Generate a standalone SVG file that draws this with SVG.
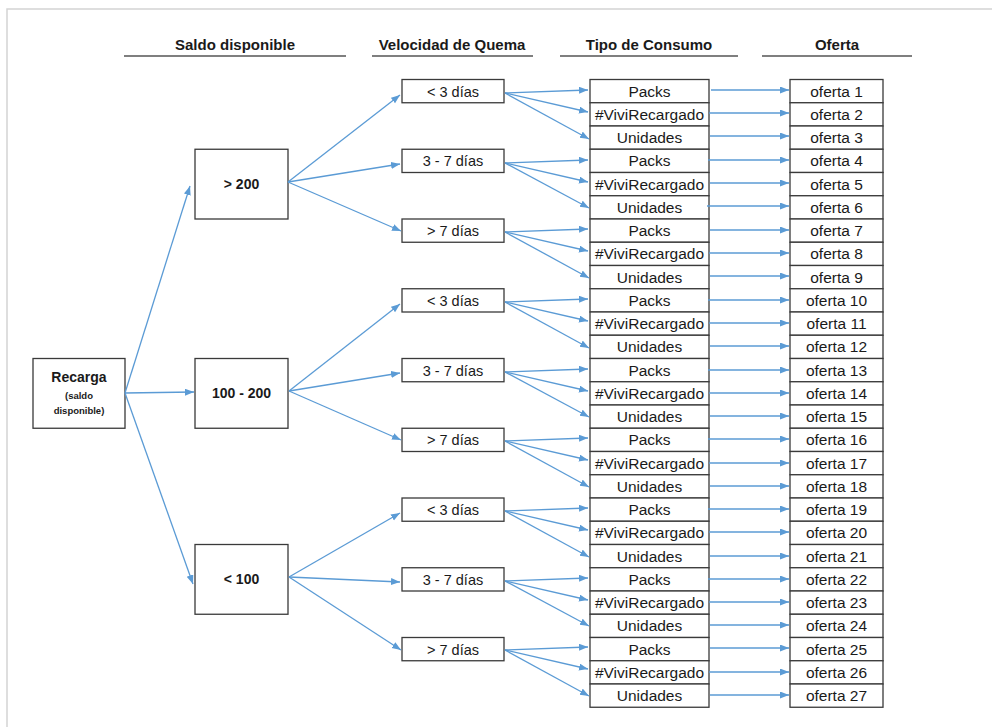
<svg xmlns="http://www.w3.org/2000/svg" width="992" height="727" viewBox="0 0 992 727">
<style>
  text { font-family: "Liberation Sans", Arial, sans-serif; fill: #1a1a1a; }
  .hd { font-size: 15px; font-weight: bold; text-anchor: middle; }
  .t { font-size: 15.5px; text-anchor: middle; }
  .v { font-size: 14.5px; text-anchor: middle; }
  .b { font-size: 14px; font-weight: bold; text-anchor: middle; }
  .s { font-size: 9.5px; font-weight: bold; text-anchor: middle; }
  .box { fill: #fff; stroke: #3a3a3a; stroke-width: 1.3; }
  .hl { stroke: #555; stroke-width: 1.6; }
  .c line { stroke: #5B9BD5; stroke-width: 1.3; marker-end: url(#ah); }
</style>
<defs>
  <marker id="ah" markerWidth="10" markerHeight="8" refX="9" refY="3.5" orient="auto" markerUnits="userSpaceOnUse">
    <path d="M0,0 L9,3.5 L0,7 z" fill="#5B9BD5"/>
  </marker>
</defs>
<rect width="992" height="727" fill="#fff"/>
<path d="M7,727 V9 H992" fill="none" stroke="#d4d4d4" stroke-width="1.5"/>

<g id="headers">
  <text class="hd" x="235" y="50">Saldo disponible</text>
  <line class="hl" x1="124" y1="56" x2="346" y2="56"/>
  <text class="hd" x="452" y="50">Velocidad de Quema</text>
  <line class="hl" x1="372" y1="56" x2="533" y2="56"/>
  <text class="hd" x="649" y="50">Tipo de Consumo</text>
  <line class="hl" x1="560" y1="56" x2="738" y2="56"/>
  <text class="hd" x="837" y="50">Oferta</text>
  <line class="hl" x1="762" y1="56" x2="912" y2="56"/>
</g>

<g id="recarga">
  <rect class="box" x="33" y="358.5" width="92" height="69.75"/>
  <text class="b" x="79" y="382">Recarga</text>
  <text class="s" x="79" y="399">(saldo</text>
  <text class="s" x="79" y="414">disponible)</text>
</g>

<g id="saldo-mayor-200">
  <rect class="box" x="195" y="149.25" width="93" height="69.75"/>
  <text class="b" x="241.5" y="189">&gt; 200</text>
</g>
<g id="saldo-100-200">
  <rect class="box" x="195" y="358.5" width="93" height="69.75"/>
  <text class="b" x="241.5" y="398">100 - 200</text>
</g>
<g id="saldo-menor-100">
  <rect class="box" x="195" y="544.5" width="93" height="69.75"/>
  <text class="b" x="241.5" y="584">&lt; 100</text>
</g>

<g id="vel-1"><rect class="box" x="402" y="79.5" width="102" height="23.25"/><text class="v" x="453" y="96.5">&lt; 3 días</text></g>
<g id="vel-2"><rect class="box" x="402" y="149.25" width="102" height="23.25"/><text class="v" x="453" y="166.25">3 - 7 días</text></g>
<g id="vel-3"><rect class="box" x="402" y="219" width="102" height="23.25"/><text class="v" x="453" y="236">&gt; 7 días</text></g>
<g id="vel-4"><rect class="box" x="402" y="288.75" width="102" height="23.25"/><text class="v" x="453" y="305.75">&lt; 3 días</text></g>
<g id="vel-5"><rect class="box" x="402" y="358.5" width="102" height="23.25"/><text class="v" x="453" y="375.5">3 - 7 días</text></g>
<g id="vel-6"><rect class="box" x="402" y="428.25" width="102" height="23.25"/><text class="v" x="453" y="445.25">&gt; 7 días</text></g>
<g id="vel-7"><rect class="box" x="402" y="498" width="102" height="23.25"/><text class="v" x="453" y="515">&lt; 3 días</text></g>
<g id="vel-8"><rect class="box" x="402" y="567.75" width="102" height="23.25"/><text class="v" x="453" y="584.75">3 - 7 días</text></g>
<g id="vel-9"><rect class="box" x="402" y="637.5" width="102" height="23.25"/><text class="v" x="453" y="654.5">&gt; 7 días</text></g>

<g id="consumo">
  <g id="con-1"><rect class="box" x="590" y="79.5" width="119" height="23.25"/><text class="t" x="649.5" y="96.5">Packs</text></g>
  <g id="con-2"><rect class="box" x="590" y="102.75" width="119" height="23.25"/><text class="t" x="649.5" y="119.75">#ViviRecargado</text></g>
  <g id="con-3"><rect class="box" x="590" y="126" width="119" height="23.25"/><text class="t" x="649.5" y="143">Unidades</text></g>
  <g id="con-4"><rect class="box" x="590" y="149.25" width="119" height="23.25"/><text class="t" x="649.5" y="166.25">Packs</text></g>
  <g id="con-5"><rect class="box" x="590" y="172.5" width="119" height="23.25"/><text class="t" x="649.5" y="189.5">#ViviRecargado</text></g>
  <g id="con-6"><rect class="box" x="590" y="195.75" width="119" height="23.25"/><text class="t" x="649.5" y="212.75">Unidades</text></g>
  <g id="con-7"><rect class="box" x="590" y="219" width="119" height="23.25"/><text class="t" x="649.5" y="236">Packs</text></g>
  <g id="con-8"><rect class="box" x="590" y="242.25" width="119" height="23.25"/><text class="t" x="649.5" y="259.25">#ViviRecargado</text></g>
  <g id="con-9"><rect class="box" x="590" y="265.5" width="119" height="23.25"/><text class="t" x="649.5" y="282.5">Unidades</text></g>
  <g id="con-10"><rect class="box" x="590" y="288.75" width="119" height="23.25"/><text class="t" x="649.5" y="305.75">Packs</text></g>
  <g id="con-11"><rect class="box" x="590" y="312" width="119" height="23.25"/><text class="t" x="649.5" y="329">#ViviRecargado</text></g>
  <g id="con-12"><rect class="box" x="590" y="335.25" width="119" height="23.25"/><text class="t" x="649.5" y="352.25">Unidades</text></g>
  <g id="con-13"><rect class="box" x="590" y="358.5" width="119" height="23.25"/><text class="t" x="649.5" y="375.5">Packs</text></g>
  <g id="con-14"><rect class="box" x="590" y="381.75" width="119" height="23.25"/><text class="t" x="649.5" y="398.75">#ViviRecargado</text></g>
  <g id="con-15"><rect class="box" x="590" y="405" width="119" height="23.25"/><text class="t" x="649.5" y="422">Unidades</text></g>
  <g id="con-16"><rect class="box" x="590" y="428.25" width="119" height="23.25"/><text class="t" x="649.5" y="445.25">Packs</text></g>
  <g id="con-17"><rect class="box" x="590" y="451.5" width="119" height="23.25"/><text class="t" x="649.5" y="468.5">#ViviRecargado</text></g>
  <g id="con-18"><rect class="box" x="590" y="474.75" width="119" height="23.25"/><text class="t" x="649.5" y="491.75">Unidades</text></g>
  <g id="con-19"><rect class="box" x="590" y="498" width="119" height="23.25"/><text class="t" x="649.5" y="515">Packs</text></g>
  <g id="con-20"><rect class="box" x="590" y="521.25" width="119" height="23.25"/><text class="t" x="649.5" y="538.25">#ViviRecargado</text></g>
  <g id="con-21"><rect class="box" x="590" y="544.5" width="119" height="23.25"/><text class="t" x="649.5" y="561.5">Unidades</text></g>
  <g id="con-22"><rect class="box" x="590" y="567.75" width="119" height="23.25"/><text class="t" x="649.5" y="584.75">Packs</text></g>
  <g id="con-23"><rect class="box" x="590" y="591" width="119" height="23.25"/><text class="t" x="649.5" y="608">#ViviRecargado</text></g>
  <g id="con-24"><rect class="box" x="590" y="614.25" width="119" height="23.25"/><text class="t" x="649.5" y="631.25">Unidades</text></g>
  <g id="con-25"><rect class="box" x="590" y="637.5" width="119" height="23.25"/><text class="t" x="649.5" y="654.5">Packs</text></g>
  <g id="con-26"><rect class="box" x="590" y="660.75" width="119" height="23.25"/><text class="t" x="649.5" y="677.75">#ViviRecargado</text></g>
  <g id="con-27"><rect class="box" x="590" y="684" width="119" height="23.25"/><text class="t" x="649.5" y="701">Unidades</text></g>
</g>

<g id="ofertas">
  <g id="of-1"><rect class="box" x="790" y="79.5" width="93" height="23.25"/><text class="t" x="836.5" y="96.5">oferta 1</text></g>
  <g id="of-2"><rect class="box" x="790" y="102.75" width="93" height="23.25"/><text class="t" x="836.5" y="119.75">oferta 2</text></g>
  <g id="of-3"><rect class="box" x="790" y="126" width="93" height="23.25"/><text class="t" x="836.5" y="143">oferta 3</text></g>
  <g id="of-4"><rect class="box" x="790" y="149.25" width="93" height="23.25"/><text class="t" x="836.5" y="166.25">oferta 4</text></g>
  <g id="of-5"><rect class="box" x="790" y="172.5" width="93" height="23.25"/><text class="t" x="836.5" y="189.5">oferta 5</text></g>
  <g id="of-6"><rect class="box" x="790" y="195.75" width="93" height="23.25"/><text class="t" x="836.5" y="212.75">oferta 6</text></g>
  <g id="of-7"><rect class="box" x="790" y="219" width="93" height="23.25"/><text class="t" x="836.5" y="236">oferta 7</text></g>
  <g id="of-8"><rect class="box" x="790" y="242.25" width="93" height="23.25"/><text class="t" x="836.5" y="259.25">oferta 8</text></g>
  <g id="of-9"><rect class="box" x="790" y="265.5" width="93" height="23.25"/><text class="t" x="836.5" y="282.5">oferta 9</text></g>
  <g id="of-10"><rect class="box" x="790" y="288.75" width="93" height="23.25"/><text class="t" x="836.5" y="305.75">oferta 10</text></g>
  <g id="of-11"><rect class="box" x="790" y="312" width="93" height="23.25"/><text class="t" x="836.5" y="329">oferta 11</text></g>
  <g id="of-12"><rect class="box" x="790" y="335.25" width="93" height="23.25"/><text class="t" x="836.5" y="352.25">oferta 12</text></g>
  <g id="of-13"><rect class="box" x="790" y="358.5" width="93" height="23.25"/><text class="t" x="836.5" y="375.5">oferta 13</text></g>
  <g id="of-14"><rect class="box" x="790" y="381.75" width="93" height="23.25"/><text class="t" x="836.5" y="398.75">oferta 14</text></g>
  <g id="of-15"><rect class="box" x="790" y="405" width="93" height="23.25"/><text class="t" x="836.5" y="422">oferta 15</text></g>
  <g id="of-16"><rect class="box" x="790" y="428.25" width="93" height="23.25"/><text class="t" x="836.5" y="445.25">oferta 16</text></g>
  <g id="of-17"><rect class="box" x="790" y="451.5" width="93" height="23.25"/><text class="t" x="836.5" y="468.5">oferta 17</text></g>
  <g id="of-18"><rect class="box" x="790" y="474.75" width="93" height="23.25"/><text class="t" x="836.5" y="491.75">oferta 18</text></g>
  <g id="of-19"><rect class="box" x="790" y="498" width="93" height="23.25"/><text class="t" x="836.5" y="515">oferta 19</text></g>
  <g id="of-20"><rect class="box" x="790" y="521.25" width="93" height="23.25"/><text class="t" x="836.5" y="538.25">oferta 20</text></g>
  <g id="of-21"><rect class="box" x="790" y="544.5" width="93" height="23.25"/><text class="t" x="836.5" y="561.5">oferta 21</text></g>
  <g id="of-22"><rect class="box" x="790" y="567.75" width="93" height="23.25"/><text class="t" x="836.5" y="584.75">oferta 22</text></g>
  <g id="of-23"><rect class="box" x="790" y="591" width="93" height="23.25"/><text class="t" x="836.5" y="608">oferta 23</text></g>
  <g id="of-24"><rect class="box" x="790" y="614.25" width="93" height="23.25"/><text class="t" x="836.5" y="631.25">oferta 24</text></g>
  <g id="of-25"><rect class="box" x="790" y="637.5" width="93" height="23.25"/><text class="t" x="836.5" y="654.5">oferta 25</text></g>
  <g id="of-26"><rect class="box" x="790" y="660.75" width="93" height="23.25"/><text class="t" x="836.5" y="677.75">oferta 26</text></g>
  <g id="of-27"><rect class="box" x="790" y="684" width="93" height="23.25"/><text class="t" x="836.5" y="701">oferta 27</text></g>
</g>

<g id="connectors" class="c">
  <line x1="125" y1="393" x2="190" y2="186"/>
  <line x1="125" y1="393" x2="194" y2="392"/>
  <line x1="125" y1="393" x2="193" y2="584"/>
  <line x1="288" y1="182" x2="400" y2="95"/>
  <line x1="288" y1="182" x2="400" y2="164"/>
  <line x1="288" y1="182" x2="401" y2="231"/>
  <line x1="289" y1="391" x2="400" y2="304"/>
  <line x1="289" y1="391" x2="400" y2="373"/>
  <line x1="289" y1="391" x2="401" y2="440"/>
  <line x1="289" y1="577" x2="400" y2="513"/>
  <line x1="289" y1="577" x2="400" y2="582"/>
  <line x1="289" y1="577" x2="401" y2="650"/>
  <line x1="505" y1="93" x2="588" y2="90"/>
  <line x1="505" y1="93" x2="588" y2="112"/>
  <line x1="505" y1="93" x2="589" y2="139"/>
  <line x1="505" y1="163" x2="588" y2="160"/>
  <line x1="505" y1="163" x2="588" y2="182"/>
  <line x1="505" y1="163" x2="589" y2="208"/>
  <line x1="505" y1="232" x2="588" y2="229"/>
  <line x1="505" y1="232" x2="588" y2="251"/>
  <line x1="505" y1="232" x2="589" y2="278"/>
  <line x1="505" y1="302" x2="588" y2="299"/>
  <line x1="505" y1="302" x2="588" y2="321"/>
  <line x1="505" y1="302" x2="589" y2="348"/>
  <line x1="505" y1="372" x2="588" y2="369"/>
  <line x1="505" y1="372" x2="588" y2="391"/>
  <line x1="505" y1="372" x2="589" y2="417"/>
  <line x1="505" y1="441" x2="588" y2="438"/>
  <line x1="505" y1="441" x2="588" y2="460"/>
  <line x1="505" y1="441" x2="589" y2="487"/>
  <line x1="505" y1="511" x2="588" y2="508"/>
  <line x1="505" y1="511" x2="588" y2="530"/>
  <line x1="505" y1="511" x2="589" y2="557"/>
  <line x1="505" y1="581" x2="588" y2="578"/>
  <line x1="505" y1="581" x2="588" y2="600"/>
  <line x1="505" y1="581" x2="589" y2="626"/>
  <line x1="505" y1="650" x2="588" y2="647"/>
  <line x1="505" y1="650" x2="588" y2="669"/>
  <line x1="505" y1="650" x2="589" y2="696"/>
  <line x1="711" y1="90" x2="789" y2="90"/>
  <line x1="709" y1="113" x2="789" y2="113"/>
  <line x1="710" y1="136" x2="789" y2="136"/>
  <line x1="708" y1="160" x2="789" y2="160"/>
  <line x1="710" y1="183" x2="789" y2="183"/>
  <line x1="707" y1="206" x2="789" y2="206"/>
  <line x1="710" y1="230" x2="789" y2="230"/>
  <line x1="709" y1="253" x2="789" y2="253"/>
  <line x1="710" y1="276" x2="789" y2="276"/>
  <line x1="708" y1="300" x2="789" y2="300"/>
  <line x1="709" y1="323" x2="789" y2="323"/>
  <line x1="710" y1="346" x2="789" y2="346"/>
  <line x1="708" y1="370" x2="789" y2="370"/>
  <line x1="709" y1="393" x2="789" y2="393"/>
  <line x1="710" y1="416" x2="789" y2="416"/>
  <line x1="708" y1="439" x2="789" y2="439"/>
  <line x1="709" y1="463" x2="789" y2="463"/>
  <line x1="710" y1="486" x2="789" y2="486"/>
  <line x1="708" y1="509" x2="789" y2="509"/>
  <line x1="709" y1="532" x2="789" y2="532"/>
  <line x1="710" y1="556" x2="789" y2="556"/>
  <line x1="708" y1="579" x2="789" y2="579"/>
  <line x1="709" y1="602" x2="789" y2="602"/>
  <line x1="710" y1="625" x2="789" y2="625"/>
  <line x1="710" y1="648" x2="789" y2="648"/>
  <line x1="709" y1="672" x2="789" y2="672"/>
  <line x1="710" y1="695" x2="789" y2="695"/>
</g>
</svg>
